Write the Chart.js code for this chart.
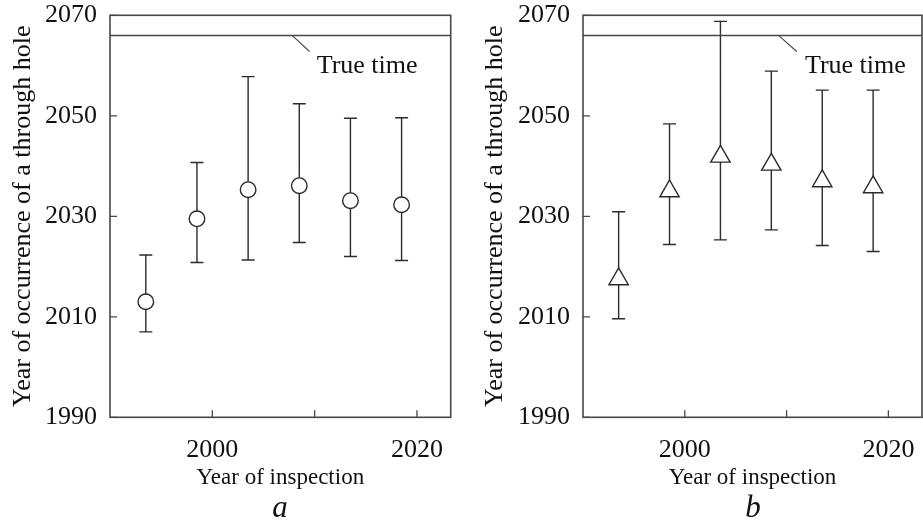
<!DOCTYPE html>
<html><head><meta charset="utf-8">
<script src="https://cdn.jsdelivr.net/npm/chart.js@4.4.1/dist/chart.umd.min.js"></script>
<style>
html,body{margin:0;padding:0;background:#fff;}
body{width:923px;height:529px;position:relative;overflow:hidden;}
canvas{position:absolute;top:0;}
#ca{left:0;}
#cb{left:463px;}
.lbl{position:absolute;font-family:'Liberation Serif','Times New Roman',serif;font-style:italic;font-size:31px;line-height:31px;color:#111;width:60px;text-align:center;}
</style></head><body>
<canvas id="ca" width="462" height="529"></canvas>
<canvas id="cb" width="460" height="529"></canvas>
<div class="lbl" id="la" style="left:250px;top:491px"></div>
<div class="lbl" id="lb" style="left:723px;top:491px"></div>
<script>
// ---- data ----
const inspectionYears = [1993.5, 1998.5, 2003.5, 2008.5, 2013.5, 2018.5];
const aMid  = [2013.0, 2029.5, 2035.3, 2036.1, 2033.1, 2032.3];
const aLow  = [2007.0, 2020.8, 2021.3, 2024.8, 2022.0, 2021.2];
const aHigh = [2022.3, 2040.7, 2057.8, 2052.4, 2049.5, 2049.6];
const bMid  = [2017.5, 2035.0, 2041.9, 2040.3, 2037.0, 2035.8];
const bLow  = [2009.6, 2024.4, 2025.3, 2027.3, 2024.2, 2023.0];
const bHigh = [2030.9, 2048.4, 2068.8, 2058.9, 2055.1, 2055.1];
const trueTime = 2066;
const yTickValues = [1990, 2010, 2030, 2050, 2070];
const xTickValues = [2000, 2010, 2020];
const xTickLabels = ['2000', '', '2020'];
const panelLabels = ['a', 'b'];
const yTitle = 'Year of occurrence of a through hole';
const xTitle = 'Year of inspection';
const trueTimeLabel = 'True time';

// ---- style ----
const X_MIN = 1990, X_MAX = 2023.3, Y_MIN = 1990, Y_MAX = 2070;
const INK = '#2b2b2b';
const FRAME = '#474747';
const TEXT = '#111111';
const SERIF = "'Liberation Serif','Times New Roman',serif";

document.getElementById('la').textContent = panelLabels[0];
document.getElementById('lb').textContent = panelLabels[1];

const frameTicks = {
  id: 'frameTicks',
  afterDatasetsDraw(chart) {
    const {ctx, chartArea: a, scales: {x, y}} = chart;
    ctx.save();
    ctx.strokeStyle = FRAME;
    ctx.lineWidth = 1.6;
    ctx.strokeRect(a.left, a.top, a.right - a.left, a.bottom - a.top);
    ctx.lineWidth = 1.3;
    ctx.beginPath();
    xTickValues.forEach(v => {
      const px = x.getPixelForValue(v);
      ctx.moveTo(px, a.bottom); ctx.lineTo(px, a.bottom - 7);
    });
    yTickValues.forEach(v => {
      const py = y.getPixelForValue(v);
      ctx.moveTo(a.left, py); ctx.lineTo(a.left + 7, py);
    });
    ctx.stroke();
    ctx.restore();
  }
};

function errorBars(low, high) {
  return {
    id: 'errorBars',
    beforeDatasetsDraw(chart) {
      const {ctx, scales: {x, y}} = chart;
      ctx.save();
      ctx.strokeStyle = INK;
      ctx.lineWidth = 1.4;
      ctx.beginPath();
      inspectionYears.forEach((yr, i) => {
        const px = x.getPixelForValue(yr);
        const p1 = y.getPixelForValue(low[i]);
        const p2 = y.getPixelForValue(high[i]);
        ctx.moveTo(px, p1); ctx.lineTo(px, p2);
        ctx.moveTo(px - 6.5, p1); ctx.lineTo(px + 6.5, p1);
        ctx.moveTo(px - 6.5, p2); ctx.lineTo(px + 6.5, p2);
      });
      ctx.stroke();
      ctx.restore();
    }
  };
}

function annotation(g) {
  return {
    id: 'trueTimeNote',
    afterDraw(chart) {
      const {ctx, scales: {x, y}} = chart;
      ctx.save();
      ctx.strokeStyle = FRAME;
      ctx.lineWidth = 1.1;
      ctx.beginPath();
      ctx.moveTo(x.getPixelForValue(g.x0), y.getPixelForValue(trueTime));
      ctx.lineTo(x.getPixelForValue(g.x1), y.getPixelForValue(g.y1));
      ctx.stroke();
      ctx.fillStyle = TEXT;
      ctx.font = '26px ' + SERIF;
      ctx.textAlign = 'left';
      ctx.textBaseline = 'alphabetic';
      ctx.fillText(trueTimeLabel, x.getPixelForValue(g.tx), y.getPixelForValue(g.ty));
      ctx.restore();
    }
  };
}

function makePanel(id, mid, low, high, style, radius, geom) {
  new Chart(document.getElementById(id), {
    type: 'scatter',
    data: {
      datasets: [
        {
          type: 'line',
          data: [{x: X_MIN, y: trueTime}, {x: X_MAX, y: trueTime}],
          borderColor: FRAME, borderWidth: 1.5, pointRadius: 0, order: 2
        },
        {
          data: inspectionYears.map((v, i) => ({x: v, y: mid[i]})),
          pointStyle: style, pointRadius: radius,
          backgroundColor: '#ffffff', borderColor: INK, borderWidth: 1.4, order: 1
        }
      ]
    },
    options: {
      responsive: false, animation: false, events: [],
      layout: {padding: geom.pad, autoPadding: false},
      plugins: {legend: {display: false}, tooltip: {enabled: false}},
      scales: {
        x: {
          type: 'linear', min: X_MIN, max: X_MAX,
          afterBuildTicks: s => { s.ticks = xTickValues.map(v => ({value: v})); },
          afterFit: s => { s.height = geom.xH; s.paddingLeft = 0; s.paddingRight = 0; },
          grid: {display: false, drawTicks: false},
          border: {display: false},
          ticks: {
            padding: 0, color: TEXT, font: {family: SERIF, size: 26, lineHeight: 2.5},
            maxRotation: 0, autoSkip: false,
            callback: (v) => { const k = xTickValues.indexOf(v); return k >= 0 ? xTickLabels[k] : ''; }
          },
          title: {display: true, text: xTitle, color: TEXT,
                  font: {family: SERIF, size: 23, lineHeight: 1.2}, padding: {top: 0, bottom: 37}}
        },
        y: {
          type: 'linear', min: Y_MIN, max: Y_MAX,
          afterBuildTicks: s => { s.ticks = yTickValues.map(v => ({value: v})); },
          afterFit: s => { s.width = geom.yW; s.paddingTop = 0; s.paddingBottom = 0; },
          grid: {display: false, drawTicks: false},
          border: {display: false},
          ticks: {padding: 13, color: TEXT, font: {family: SERIF, size: 26, lineHeight: 1.2},
                  callback: v => String(v)},
          title: {display: true, text: yTitle, color: TEXT,
                  font: {family: SERIF, size: 26, lineHeight: 1.2}, padding: {top: geom.yTitlePad, bottom: 0}}
        }
      }
    },
    plugins: [errorBars(low, high), frameTicks, annotation(geom.note)]
  });
}

makePanel('ca', aMid, aLow, aHigh, 'circle', 7.8, {
  pad: {left: 0, right: 11.3, top: 15.3, bottom: 0}, xH: 111.7, yW: 110, yTitlePad: 7.4,
  note: {x0: 2007.8, x1: 2009.5, y1: 2062.8, tx: 2010.2, ty: 2058.5}
});
makePanel('cb', bMid, bLow, bHigh, 'triangle', 11.2, {
  pad: {left: 0, right: 1, top: 15.3, bottom: 0}, xH: 111.7, yW: 120, yTitlePad: 16.4,
  note: {x0: 2009.2, x1: 2011.0, y1: 2062.8, tx: 2011.8, ty: 2058.5}
});
</script>
</body></html>
